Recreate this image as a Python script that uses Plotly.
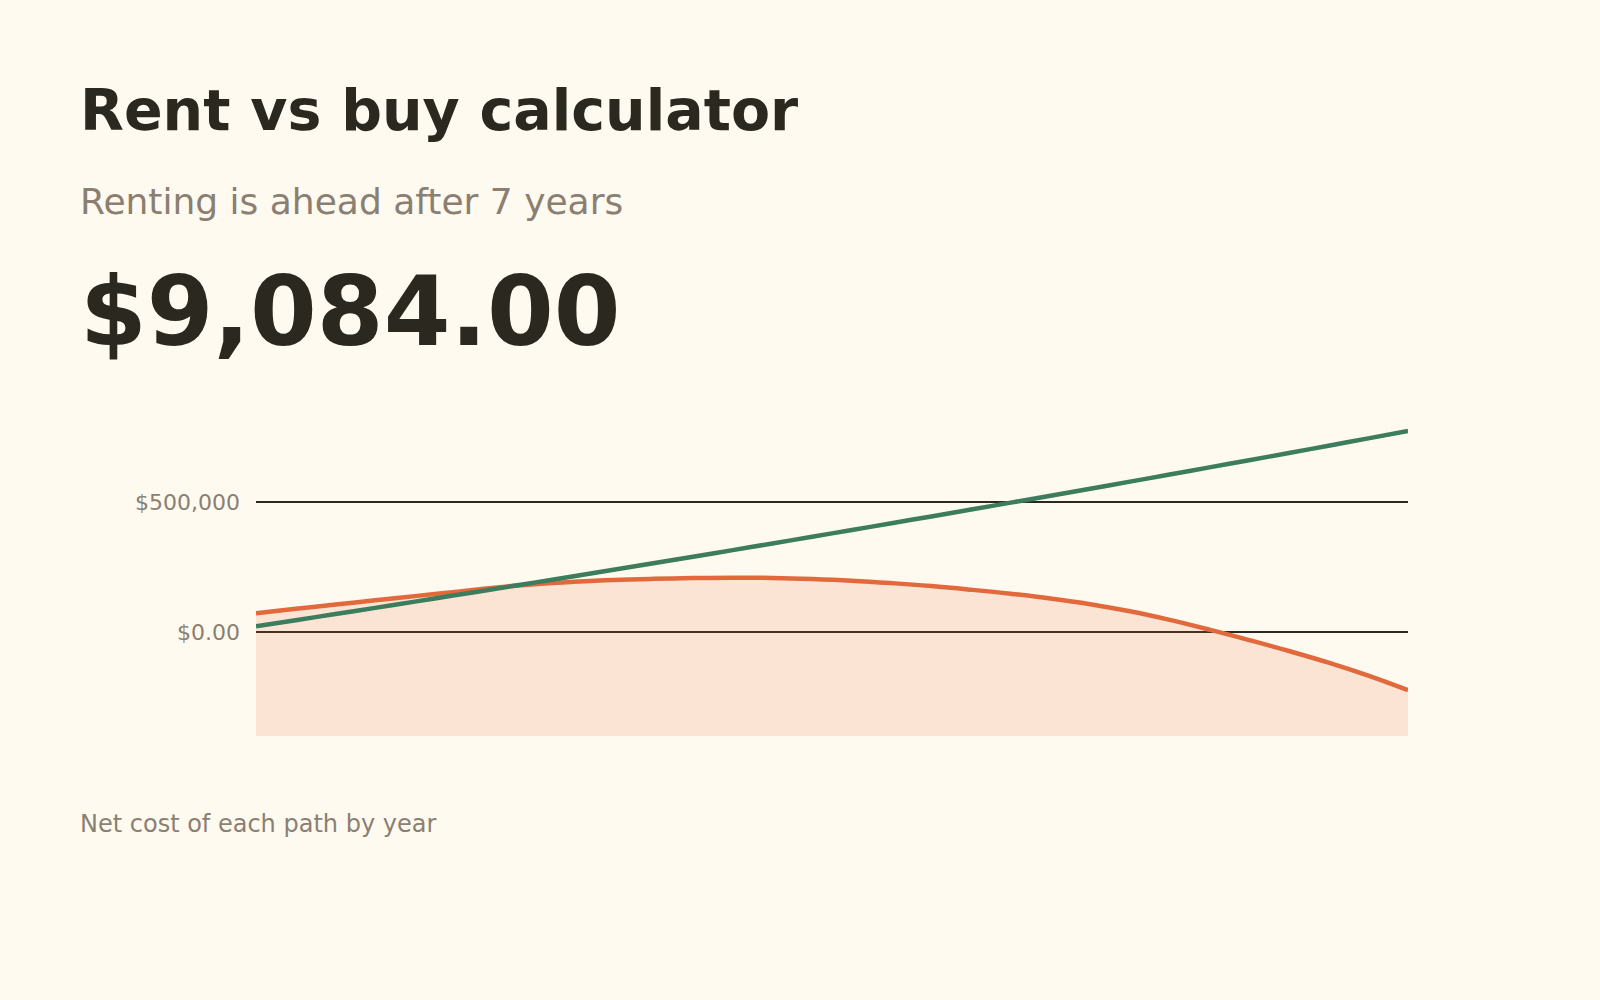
import plotly.graph_objects as go

# values (net cost per path, by year)
years = list(range(1, 31))
rent_cost = [72000, 89000, 105500, 122000, 138000, 154000, 170500, 184000,
             193000, 200000, 204500, 207500, 209000, 208000, 204000, 197500,
             188000, 176500, 162500, 147000, 129000, 107000, 79500, 46500,
             9000, -31000, -73000, -118000, -168000, -224000]
buy_cost = [21900, 45400, 69000, 92800, 116800, 141000, 165300, 189800,
            214500, 239400, 264500, 289600, 315000, 340500, 366300, 392200,
            418300, 444500, 470900, 497500, 524300, 551200, 578300, 605600,
            633100, 660700, 688500, 716500, 744600, 773000]
tick_vals = [0, 500000]
tick_text = ["$0.00", "$500,000"]
title = "Rent vs buy calculator"
subtitle = "Renting is ahead after 7 years"
headline = "$9,084.00"
footnote = "Net cost of each path by year"

y_floor = -400000
y_top = 800000

bg = "#FFFAEF"
ink = "#2B2820"
muted = "#8A7F72"
orange = "#E2693C"
green = "#3B7D5C"

fig = go.Figure()
# invisible floor so the orange area fills down to the bottom of the plot
fig.add_trace(go.Scatter(x=years, y=[y_floor] * len(years), mode="lines",
                         line=dict(width=0), hoverinfo="skip", showlegend=False))
fig.add_trace(go.Scatter(x=years, y=rent_cost, mode="lines", fill="tonexty",
                         fillcolor="rgba(226,105,60,0.15)",
                         line=dict(color=orange, width=4.5, shape="spline", smoothing=1.2),
                         showlegend=False))
fig.add_trace(go.Scatter(x=years, y=buy_cost, mode="lines",
                         line=dict(color=green, width=4.5, shape="spline", smoothing=1.2),
                         showlegend=False))

# plot area: x 256..1408 px, y 424..736 px
def py(p):
    return (735.7 - p) / 312.0

def px_(p):
    return (p - 256.0) / 1152.0

texts = [
    (title, 57, ink, "bold", 110),
    (subtitle, 36, muted, "normal", 201),
    (headline, 96, ink, "bold", 312),
    (footnote, 24, muted, "normal", 824),
]
for txt, size, col, weight, ypix in texts:
    fig.add_annotation(text=txt, xref="paper", yref="paper", x=px_(78), y=py(ypix),
                       xanchor="left", yanchor="middle", showarrow=False,
                       font=dict(family="DejaVu Sans", size=size, color=col, weight=weight))

fig.update_layout(
    width=1600, height=1000,
    margin=dict(l=256, r=192, t=424, b=264),
    paper_bgcolor=bg, plot_bgcolor=bg,
    font=dict(family="DejaVu Sans", color=muted),
    showlegend=False,
    hovermode=False,
)
fig.update_xaxes(range=[1, 30], showgrid=False, zeroline=False,
                 showticklabels=False, showline=False, ticks="")
fig.update_yaxes(range=[y_floor, y_top], tickvals=tick_vals, ticktext=tick_text,
                 showgrid=True, gridcolor=ink, gridwidth=1.5, zeroline=False,
                 showline=False, ticks="", ticklabelstandoff=15,
                 tickfont=dict(size=22, color=muted))

fig.write_html("out.html", config={"displayModeBar": False},
               post_script="document.body.style.margin='0';"
                           "document.body.style.background='" + bg + "';")
